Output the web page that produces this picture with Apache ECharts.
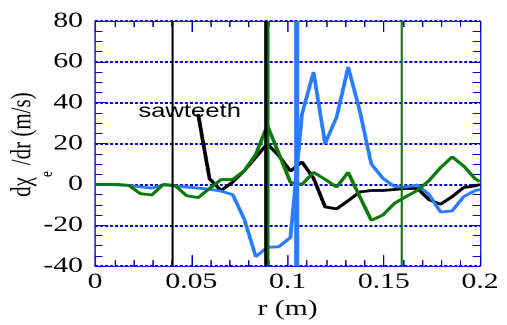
<!DOCTYPE html>
<html><head><meta charset="utf-8">
<script src="https://cdn.jsdelivr.net/npm/echarts@6/dist/echarts.min.js"></script>
<style>
html,body{margin:0;padding:0;background:#fff;overflow:hidden;width:507px;height:325px}
#c{width:376px;height:325px;transform:scaleX(1.3484);transform-origin:0 0}
</style></head><body><div id="c"></div>
<script>
// radius grid (m)
const radius = [0, 0.0055, 0.0115, 0.0175, 0.0235, 0.0295, 0.0355, 0.0415, 0.0475, 0.0535,
  0.0595, 0.0655, 0.0715, 0.0775, 0.0835, 0.0895, 0.0955, 0.1015, 0.1075, 0.1135,
  0.1195, 0.1255, 0.1315, 0.1375, 0.1435, 0.1495, 0.1555, 0.1615, 0.1675, 0.1735,
  0.1795, 0.1855, 0.1915, 0.1975, 0.2];
// dchi_e/dr (m/s)
const blackValues = [null, null, null, null, null, null, null, null, null, 34.5,
  2.7, -3, 1.2, 6.7, 13.3, 19.9, 14, 6.5, 11, 3,
  -11, -12, -8, -3.7, -3, -3, -2.5, -2, -2, -7.5,
  -9.7, -6, -1.5, -0.7, 0];
const greenValues = [0, 0, 0, -0.5, -4.5, -5.2, 0, -0.5, -5.5, -6.5,
  -2, 2.4, 2.4, 6.7, 14.7, 28.9, 15, 1, 0, 5.9,
  2.5, -1.3, 5.9, -6, -17.6, -15, -9.3, -6, -2.9, 1.9,
  8.2, 13.5, 9, 2.7, 1.4];
const blueValues = [0, 0, -0.3, -0.5, -1.2, -1.8, -0.3, -0.8, -1.3, -1.8,
  -2.4, -3.3, -5, -17, -35.4, -30.8, -30.5, -26, 34.4, 55,
  20, 33, 57.5, 36, 10, 3, -1, -1.3, -0.3, -5,
  -13.5, -13, -6, -3, -2.5];
// vertical marker positions (m)
const blackMarkers = [0.0398, 0.0887];
const greenMarkers = [0.0900, 0.1593];
const blueMarkers = [0.1043];
const xTicks = [0, 0.05, 0.1, 0.15, 0.2];
const yTicks = [-40, -20, 0, 20, 40, 60, 80];
// y-axis title pieces: main, subscript, main
const yTitleParts = ['dχ', 'e', ' /dr (m/s)'];

const BLACK = '#000000', GREEN = '#0b7a0b', BLUE = '#2a7cff';
const FRAME = '#1a1ad8', TICK = '#0000c8', GRID = '#0000c0';
const SERIF = "'Liberation Serif', 'Times New Roman', serif";
const SANS = "'Liberation Sans', Arial, sans-serif";

const pairs = vals => radius.map((r, i) => [r, vals[i]]);

const xCommon = {
  type: 'value', min: xTicks[0], max: xTicks[xTicks.length - 1], interval: 0.05,
  axisLine: {show: true, onZero: false, lineStyle: {color: FRAME, width: 1}},
  axisTick: {show: true, inside: true, length: 11, lineStyle: {color: TICK, width: 1}},
  minorTick: {show: true, splitNumber: 5, length: 6, lineStyle: {color: TICK, width: 1}},
  splitLine: {show: false}
};
const yCommon = {
  type: 'value', min: yTicks[0], max: yTicks[yTicks.length - 1], interval: 20,
  axisLine: {show: true, onZero: false, lineStyle: {color: FRAME, width: 1}},
  axisTick: {show: true, inside: true, length: 8, lineStyle: {color: TICK, width: 1}},
  minorTick: {show: true, splitNumber: 4, length: 5.5, lineStyle: {color: TICK, width: 1}}
};

const markData = [];
blackMarkers.forEach((r, i) => markData.push({xAxis: r, lineStyle: {color: BLACK, width: i === 0 ? 1.5 : 3}}));
greenMarkers.forEach(r => markData.push({xAxis: r, lineStyle: {color: GREEN, width: 1.6}}));
blueMarkers.forEach(r => markData.push({xAxis: r, lineStyle: {color: BLUE, width: 3.8}}));

// y title: rotated group; local +x runs up the page, local +y to the right (subscript drop)
const mainFont = '21px ' + SERIF, subFont = '13px ' + SERIF;
const titleChildren = [
  {type: 'text', x: -34, y: -7, style: {text: yTitleParts[0], font: mainFont, fill: '#000', align: 'right', verticalAlign: 'middle'}},
  {type: 'text', x: -34, y: 11, style: {text: yTitleParts[1], font: subFont, fill: '#000', align: 'left', verticalAlign: 'middle'}},
  {type: 'text', x: -27.5, y: -7, style: {text: yTitleParts[2], font: mainFont, fill: '#000', align: 'left', verticalAlign: 'middle'}}
];

const chart = echarts.init(document.getElementById('c'), null, {renderer: 'canvas', devicePixelRatio: 2});
chart.setOption({
  animation: false,
  backgroundColor: '#fff',
  grid: {left: 70.5, right: 20, top: 21, bottom: 52},
  xAxis: [
    Object.assign({}, xCommon, {
      position: 'bottom',
      axisLabel: {margin: 5, color: '#000', fontFamily: SERIF, fontSize: 22},
      name: 'r (m)', nameLocation: 'middle', nameGap: 25,
      nameTextStyle: {color: '#000', fontFamily: SERIF, fontSize: 22}
    }),
    Object.assign({}, xCommon, {position: 'top', axisLabel: {show: false}})
  ],
  yAxis: [
    Object.assign({}, yCommon, {
      position: 'left',
      splitLine: {show: true, lineStyle: {color: GRID, width: 2, type: [2.2, 1.5]}},
      axisLabel: {margin: 9, color: '#000', fontFamily: SERIF, fontSize: 22, padding: [0, 0, 6, 0]}
    }),
    Object.assign({}, yCommon, {position: 'right', axisLabel: {show: false}, splitLine: {show: false}})
  ],
  series: [
    {type: 'line', name: 'black', data: pairs(blackValues), showSymbol: false, symbol: 'none',
      lineStyle: {color: BLACK, width: 2.8}, connectNulls: false},
    {type: 'line', name: 'blue', data: pairs(blueValues), showSymbol: false, symbol: 'none',
      lineStyle: {color: BLUE, width: 2.8}},
    {type: 'line', name: 'green', data: pairs(greenValues), showSymbol: false, symbol: 'none',
      lineStyle: {color: GREEN, width: 2.8}},
    {type: 'line', name: 'markers', data: [], symbol: 'none',
      markLine: {silent: true, precision: 4, symbol: ['none', 'none'], label: {show: false},
        lineStyle: {type: 'solid'}, data: markData}}
  ],
  graphic: [
    {type: 'text', x: 102.6, y: 111.7, z: 100,
      style: {text: 'sawteeth', font: '19px ' + SANS, fill: '#000',
        align: 'left', verticalAlign: 'middle'}},
    {type: 'group', x: 24, y: 143, rotation: Math.PI / 2, z: 100, children: titleChildren}
  ]
});
</script></body></html>
